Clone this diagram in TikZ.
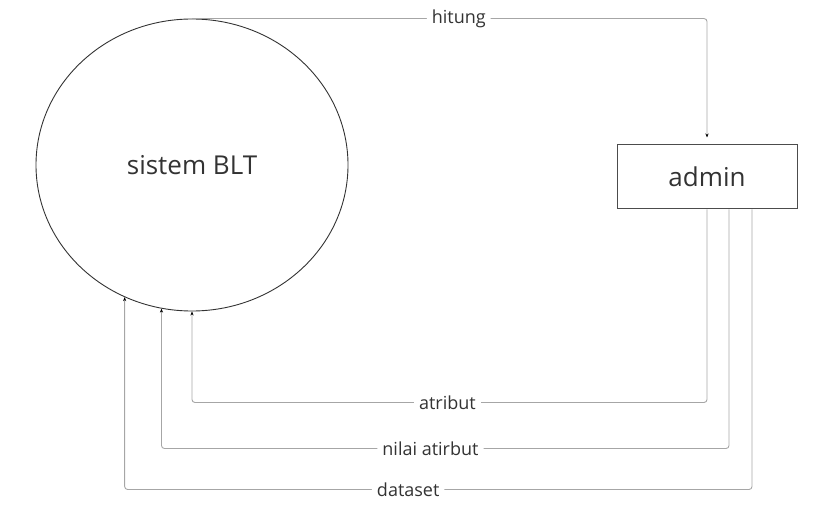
\documentclass[tikz,border=0pt]{standalone}
\usepackage{fontspec}
\setmainfont{Open Sans}
\usetikzlibrary{arrows.meta,shapes.geometric}
\definecolor{linegray}{HTML}{A6A6A6}
\definecolor{textdark}{HTML}{333333}
\begin{document}
\begin{tikzpicture}[x=1pt,y=-1pt,
  flow/.style={draw=linegray, line width=0.9pt, rounded corners=3pt,
    -{Stealth[length=4pt,width=3.2pt,color=black]}},
  lbl/.style={fill=white, inner sep=5pt, text=textdark,
    font=\fontsize{18}{20}\selectfont},
  bigtext/.style={text=textdark, font=\fontsize{26}{30}\selectfont}]
\useasboundingbox (0,0) rectangle (827,510);
\node[ellipse, draw=black!80, line width=0.9pt, minimum width=312pt,
  minimum height=292pt, inner sep=0pt, bigtext] (sys) at (192,165) {sistem BLT};
\node[rectangle, draw=black!70, line width=1pt, minimum width=180pt,
  minimum height=64pt, inner sep=0pt, bigtext] (adm) at (707,177) {admin};
\draw[flow, shorten >=7pt] (sys.north) -| node[lbl, pos=0.259] {hitung} (adm.north);
\draw[flow] (adm.south) -- ++(0,193) -| node[lbl, pos=0.252] {atribut} (sys.270.4);
\draw[flow] ([xshift=22pt]adm.south) -- ++(0,239) -| node[lbl, pos=0.263] {nilai atirbut} (sys.258.57);
\draw[flow] ([xshift=45pt]adm.south) -- ++(0,280) -| node[lbl, pos=0.274] {dataset} (sys.243.95);
\end{tikzpicture}
\end{document}
